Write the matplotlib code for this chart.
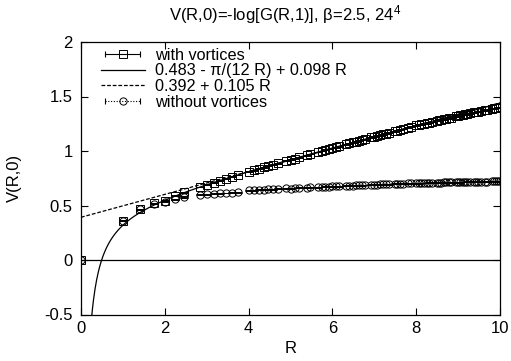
import numpy as np
import matplotlib
matplotlib.use("Agg")
import matplotlib.pyplot as plt
from matplotlib.lines import Line2D
from matplotlib.legend_handler import HandlerLine2D, HandlerTuple

plt.rcParams['font.family'] = ['Liberation Sans', 'DejaVu Sans']
plt.rcParams['mathtext.fontset'] = 'custom'
plt.rcParams['mathtext.rm'] = 'Liberation Sans'
plt.rcParams['mathtext.it'] = 'Liberation Sans:italic'

R = [0, 1, 1.4142, 1.7321, 2, 2.2361, 2.4495, 2.8284, 3, 3.1623, 3.3166, 3.4641,
     3.6056, 3.7417, 4, 4.1231, 4.2426, 4.3589, 4.4721, 4.5826, 4.6904, 4.8990, 5,
     5.0990, 5.1962, 5.3852, 5.4772, 5.6569, 5.7446, 5.8310, 5.9161, 6, 6.0828,
     6.1644, 6.3246, 6.4031, 6.4807, 6.5574, 6.6332, 6.7082, 6.7823, 6.9282, 7,
     7.0711, 7.1414, 7.2111, 7.2801, 7.3485, 7.4833, 7.5498, 7.6158, 7.6811,
     7.8102, 7.8740, 8, 8.0623, 8.1240, 8.1854, 8.2462, 8.3066, 8.3666, 8.4853,
     8.5440, 8.6023, 8.6603, 8.7178, 8.7750, 8.8318, 8.9443, 9, 9.0554, 9.1104,
     9.1652, 9.2195, 9.2736, 9.3808, 9.4340, 9.4868, 9.5394, 9.6437, 9.6954,
     9.7980, 9.8489, 9.8995, 9.9499, 10]

V_with = [0, 0.36, 0.465, 0.52, 0.545, 0.59, 0.62, 0.67, 0.69, 0.71, 0.729, 0.747,
          0.764, 0.78, 0.81, 0.824, 0.837, 0.85, 0.863, 0.875, 0.887, 0.91, 0.92,
          0.931, 0.942, 0.962, 0.972, 0.991, 1.0, 1.01, 1.018, 1.027, 1.036, 1.045,
          1.061, 1.07, 1.078, 1.086, 1.094, 1.101, 1.109, 1.124, 1.132, 1.139, 1.146,
          1.153, 1.16, 1.168, 1.181, 1.188, 1.195, 1.202, 1.215, 1.221, 1.234, 1.24,
          1.245, 1.25, 1.255, 1.26, 1.266, 1.277, 1.282, 1.287, 1.292, 1.297, 1.302,
          1.307, 1.317, 1.322, 1.326, 1.331, 1.336, 1.341, 1.345, 1.354, 1.358,
          1.362, 1.367, 1.375, 1.379, 1.386, 1.39, 1.394, 1.398, 1.402]

V_without = [0, 0.36, 0.465, 0.515, 0.535, 0.56, 0.575,
             0.598, 0.603, 0.607, 0.611, 0.615, 0.618, 0.621,
             0.638, 0.641, 0.644, 0.646, 0.648, 0.650, 0.652,
             0.656, 0.655, 0.660, 0.662,
             0.664, 0.666,
             0.669, 0.670, 0.672, 0.673, 0.675, 0.676, 0.678,
             0.680, 0.682, 0.683, 0.684, 0.686, 0.687, 0.688,
             0.690, 0.691, 0.692, 0.693, 0.694, 0.695, 0.696,
             0.698, 0.699, 0.700, 0.701,
             0.702, 0.703,
             0.705, 0.705, 0.706, 0.707, 0.707, 0.708, 0.709,
             0.710, 0.711, 0.711, 0.712, 0.712, 0.713, 0.713,
             0.714, 0.715, 0.715, 0.716, 0.716, 0.717, 0.717,
             0.718, 0.718, 0.719, 0.719,
             0.720, 0.720,
             0.721, 0.721, 0.722, 0.722,
             0.723]

labels = ["with vortices", "0.483 - π/(12 R) + 0.098 R", "0.392 + 0.105 R",
          "without vortices"]
title = "V(R,0)=-log[G(R,1)], β=2.5, 24$^4$"

fig = plt.figure(figsize=(5.11, 3.61), dpi=100)
ax = fig.add_axes([81/511, 1-314.5/361, (500-81)/511, (314.5-42)/361])

ax.axhline(0, color='black', lw=0.9)

# fit curves
xf = np.linspace(0.05, 10, 800)
ax.plot(xf, 0.483 - np.pi/(12*xf) + 0.098*xf, color='black', lw=0.9)
xd = np.linspace(0, 10, 200)
ax.plot(xd, 0.392 + 0.105*xd, color='black', lw=0.9, ls=(0, (3, 1.5)))

err = 0.004
ax.errorbar(R, V_without, yerr=err, fmt='o', ms=5.2, mfc='none', mec='black',
            mew=0.7, ecolor='black', elinewidth=0.7, capsize=2.7, capthick=0.7)
ax.errorbar(R, V_with, yerr=err, fmt='s', ms=5.2, mfc='none', mec='black',
            mew=0.7, ecolor='black', elinewidth=0.7, capsize=2.7, capthick=0.7)

ax.set_xlim(0, 10)
ax.set_ylim(-0.5, 2)
ax.set_xticks([0, 2, 4, 6, 8, 10])
ax.set_yticks([-0.5, 0, 0.5, 1, 1.5, 2])
ax.set_yticklabels(['-0.5', '0', '0.5', '1', '1.5', '2'])
ax.tick_params(direction='in', top=True, right=True, length=5, width=0.8,
               labelsize=12)
ax.tick_params(axis='x', pad=5)
ax.tick_params(axis='y', pad=6)
for s in ax.spines.values():
    s.set_linewidth(0.9)

ax.set_xlabel("R", fontsize=12, labelpad=3)
ax.set_ylabel("V(R,0)", fontsize=12)
ax.yaxis.set_label_coords((22-81)/419, 0.5)
fig.text(285/511, 1-15/361, title, ha='center', va='center', fontsize=12)

# legend handles (gnuplot-like)
tick1 = Line2D([], [], color='black', lw=0.8, marker='|', ms=5, mew=0.8)
sq = Line2D([], [], ls='none', marker='s', ms=5.2, mfc='none', mec='black', mew=0.7)
solid = Line2D([], [], color='black', lw=0.9)
dash = Line2D([], [], color='black', lw=0.9, ls=(0, (3, 1.5)))
tick2 = Line2D([], [], color='black', lw=0.8, ls=(0, (1, 1.5)), marker='|', ms=5, mew=0.8)
circ = Line2D([], [], ls='none', marker='o', ms=5.2, mfc='none', mec='black', mew=0.7)

hmap = {tick1: HandlerLine2D(numpoints=2), tick2: HandlerLine2D(numpoints=2),
        tuple: HandlerTuple(ndivide=1, pad=0)}
leg = ax.legend([(tick1, sq), solid, dash, (tick2, circ)], labels,
                handler_map=hmap, loc='upper left', frameon=False, fontsize=11.7,
                handlelength=2.75, handletextpad=0.6, labelspacing=0.05,
                borderaxespad=0, borderpad=0, numpoints=1,
                bbox_to_anchor=(19.5/419, 1 - 5.5/272.5))

fig.savefig("out.png", dpi=100)
